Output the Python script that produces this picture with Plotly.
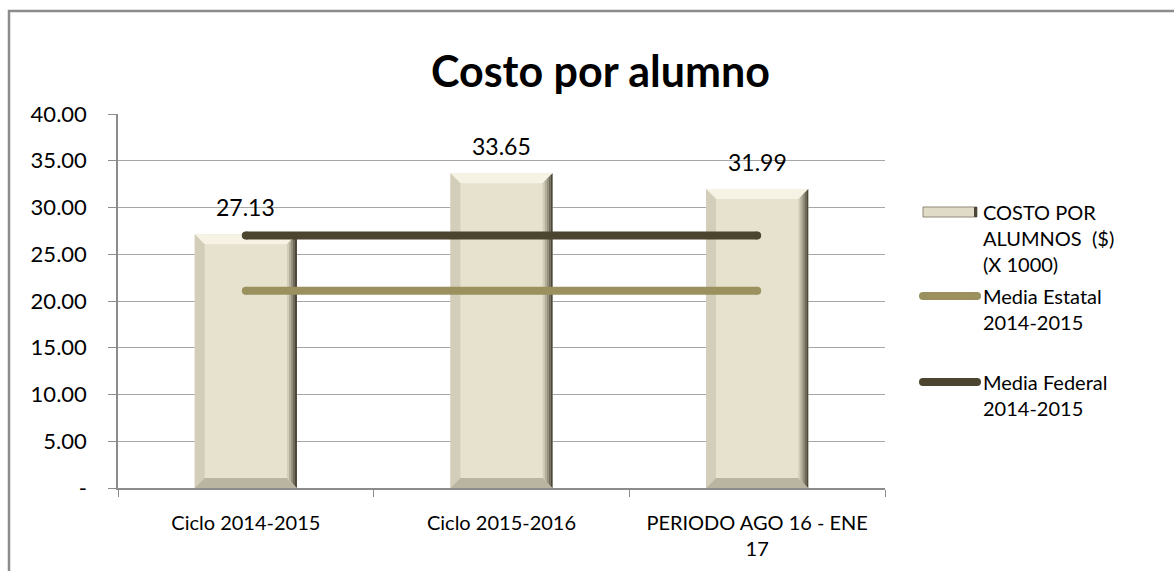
import plotly.graph_objects as go

# ---- data ----
categories = ["Ciclo 2014-2015", "Ciclo 2015-2016", "PERIODO AGO 16 - ENE<br>17"]
costo = [27.13, 33.65, 31.99]
media_estatal = [21.1, 21.1, 21.1]
media_federal = [27.0, 27.0, 27.0]
y_ticks = [0, 5, 10, 15, 20, 25, 30, 35, 40]
y_tick_text = ["-", "5.00", "10.00", "15.00", "20.00", "25.00", "30.00", "35.00", "40.00"]

# ---- layout geometry (pixels) ----
W, H = 1174, 571
ML, MR, MT, MB = 118, 289, 114, 83
PW, PH = W - ML - MR, H - MT - MB
Y_MAX = 40
FONT = "Lato"

def px_x(X):
    return (X - ML) / PW

def px_y(Y):
    return (H - MB - Y) / PH

xpos = list(range(len(categories)))
BAR_W = 0.4
BEVEL_PX = 10
dx = BEVEL_PX / (PW / 3)          # bevel width in x units
dy = BEVEL_PX / (PH / Y_MAX)      # bevel height in value units

fig = go.Figure()

fig.add_trace(go.Bar(
    x=xpos, y=costo, width=BAR_W,
    marker=dict(color="#E7E2CE", line=dict(width=0)),
    showlegend=False, hovertext=categories, hoverinfo="text+y",
))

# bevel faces on each bar, built from the bar values
def face(pts, color):
    xs = [p[0] for p in pts] + [pts[0][0]]
    ys = [p[1] for p in pts] + [pts[0][1]]
    fig.add_trace(go.Scatter(x=xs, y=ys, mode="lines", fill="toself",
                             fillcolor=color, line=dict(width=0),
                             hoverinfo="skip", showlegend=False))

steps = ["#D2CDB8", "#B5B09B", "#948F7C", "#6E6A5A", "#4A4638"]
for i, v in zip(xpos, costo):
    x0, x1 = i - BAR_W / 2, i + BAR_W / 2
    face([(x0, v), (x1, v), (x1 - dx, v - dy), (x0 + dx, v - dy)], "#F6F3E5")
    face([(x0, v), (x0 + dx, v - dy), (x0 + dx, dy), (x0, 0)], "#D3CEB9")
    face([(x0, 0), (x0 + dx, dy), (x1 - dx, dy), (x1, 0)], "#BAB5A0")
    n = len(steps)
    for k, c in enumerate(steps):
        a = x1 - dx + dx * k / n
        b = x1 - dx + dx * (k + 1) / n
        face([(a, v - dy * (1 - k / n)), (b, v - dy * (1 - (k + 1) / n)),
              (b, dy * (1 - (k + 1) / n)), (a, dy * (1 - k / n))], c)

fig.add_trace(go.Scatter(
    x=xpos, y=media_estatal, mode="lines",
    line=dict(color="#9B915F", width=8),
    showlegend=False,
))
fig.add_trace(go.Scatter(
    x=xpos, y=media_federal, mode="lines",
    line=dict(color="#4B4530", width=8),
    showlegend=False,
))
# rounded line ends
fig.add_trace(go.Scatter(
    x=[xpos[0], xpos[-1]], y=[media_estatal[0], media_estatal[-1]], mode="markers",
    marker=dict(color="#9B915F", size=8), hoverinfo="skip", showlegend=False,
))
fig.add_trace(go.Scatter(
    x=[xpos[0], xpos[-1]], y=[media_federal[0], media_federal[-1]], mode="markers",
    marker=dict(color="#4B4530", size=8), hoverinfo="skip", showlegend=False,
))

shapes = []

# outer chart frame
shapes.append(dict(type="rect", xref="paper", yref="paper",
                   x0=px_x(9), y0=px_y(H + 20), x1=px_x(W + 20), y1=px_y(11),
                   line=dict(color="#8C8C8C", width=2.5), fillcolor="rgba(0,0,0,0)",
                   layer="above"))

# legend symbols
LX0, LX1 = 923, 977
shapes.append(dict(type="rect", xref="paper", yref="paper",
                   x0=px_x(LX0), x1=px_x(LX1), y0=px_y(217), y1=px_y(207),
                   fillcolor="#E0DBC6", line=dict(color="#8F8B77", width=1)))
shapes.append(dict(type="rect", xref="paper", yref="paper",
                   x0=px_x(LX1 - 3), x1=px_x(LX1), y0=px_y(217), y1=px_y(207),
                   fillcolor="#4A4638", line=dict(width=0)))
for yc, col in [(296, "#9B915F"), (382, "#4B4530")]:
    shapes.append(dict(type="line", xref="paper", yref="paper",
                       x0=px_x(LX0), x1=px_x(LX1), y0=px_y(yc), y1=px_y(yc),
                       line=dict(color=col, width=8)))
    for xe in (LX0, LX1):
        shapes.append(dict(type="circle", xref="paper", yref="paper",
                           x0=px_x(xe - 4), x1=px_x(xe + 4),
                           y0=px_y(yc + 4), y1=px_y(yc - 4),
                           fillcolor=col, line=dict(width=0)))

annotations = []
# value labels above bars
for i, v in zip(xpos, costo):
    annotations.append(dict(x=i, y=v, xref="x", yref="y", text=f"{v:.2f}",
                            showarrow=False, yanchor="bottom", yshift=11,
                            font=dict(family=FONT, size=23, color="#000000")))

# title
annotations.append(dict(x=px_x(600), y=px_y(70), xref="paper", yref="paper",
                        text="<b>Costo por alumno</b>", showarrow=False,
                        xanchor="center", yanchor="middle",
                        font=dict(family=FONT, size=43, color="#000000")))

# legend labels
legend_items = [
    ("COSTO POR<br>ALUMNOS&nbsp; ($)<br>(X 1000)", 212),
    ("Media Estatal<br>2014-2015", 296),
    ("Media Federal<br>2014-2015", 382),
]
for txt, yc in legend_items:
    annotations.append(dict(x=px_x(981), y=px_y(yc - 14), xref="paper", yref="paper",
                            text=txt, showarrow=False, xanchor="left", yanchor="top",
                            align="left",
                            font=dict(family=FONT, size=20, color="#000000")))

fig.update_layout(
    width=W, height=H,
    margin=dict(l=ML, r=MR, t=MT, b=MB),
    paper_bgcolor="white", plot_bgcolor="white",
    font=dict(family=FONT, size=20, color="#000000"),
    shapes=shapes, annotations=annotations,
    xaxis=dict(
        tickvals=xpos, ticktext=categories, ticks="",
        minor=dict(tick0=0.5, dtick=1, ticks="outside", ticklen=7,
                   tickcolor="#8C8C8C", showgrid=False),
        showline=True, linecolor="#8C8C8C", linewidth=1.5,
        showgrid=False, zeroline=False, tickfont=dict(family=FONT, size=20),
        range=[-0.5, 2.5], ticklabelstandoff=16,
    ),
    yaxis=dict(
        range=[0, Y_MAX], tickvals=y_ticks, ticktext=y_tick_text,
        ticks="outside", ticklen=8, tickcolor="#8C8C8C",
        showline=True, linecolor="#8C8C8C", linewidth=1.5,
        showgrid=True, gridcolor="#A6A6A6", gridwidth=1,
        zeroline=False, tickfont=dict(family=FONT, size=22),
        ticklabelstandoff=17,
    ),
)

fig.write_html("out.html")
